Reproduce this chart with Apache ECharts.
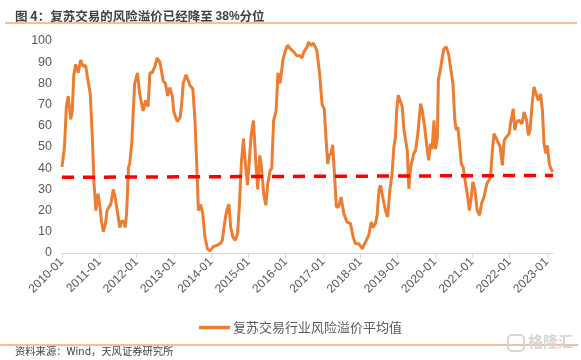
<!DOCTYPE html>
<html>
<head>
<meta charset="utf-8">
<script src="https://cdn.jsdelivr.net/npm/echarts@6/dist/echarts.min.js"></script>
<style>
html,body{margin:0;padding:0;background:#fff;}
#c{width:581px;height:360px;}
</style>
</head>
<body>
<div id="c"></div>
<script>
// ---- data ----
var startYear = 2010;
var monthCount = 159; // axis spans 2010-01 .. 2023-03
var seriesName = '复苏交易行业风险溢价平均值';
// observation time, in months since 2010-01
var obsMonth = [
  0, 0.8, 1.4, 2.0, 2.5, 2.8, 3.3, 3.8, 4.4, 5.2, 6, 6.8, 7.6, 8.4, 9.1, 9.8,
  10.3, 10.9, 11.6, 12.2, 12.7, 13.3, 14, 14.5, 15.2, 15.7, 16.5, 17, 17.5, 18, 18.6, 19.2,
  19.9, 20.3, 20.8, 21.4, 21.8, 22.5, 22.9, 23.4, 24.3, 25, 26.1, 26.9, 27.7, 28.3, 29, 29.9,
  30.6, 31.5, 32.6, 33.3, 34, 34.7, 35.5, 36, 37.1, 38, 38.5, 39, 39.9, 40.7, 41.2, 42.1,
  42.8, 43.3, 43.9, 44.6, 45.3, 46, 46.8, 47.6, 48.7, 49.8, 50.9, 51.6, 52.2, 53, 53.7, 54.3,
  55, 55.7, 56.5, 57.1, 57.7, 58.4, 59, 59.7, 60.3, 60.9, 61.6, 62.4, 63, 63.6, 64.1, 64.9,
  65.6, 66.2, 67, 67.5, 68.1, 68.9, 69.5, 70.2, 71.1, 71.8, 72.6, 73.4, 74.5, 75.6, 76.6, 77.2,
  77.9, 78.8, 79.3, 80.1, 80.9, 81.5, 82, 82.9, 83.7, 84.4, 85, 85.5, 86, 86.6, 87.1, 87.6,
  88.3, 89, 89.8, 90.7, 91.7, 92.8, 93.7, 94.4, 95.5, 96.6, 97.6, 98.7, 99.5, 100.1, 100.9, 101.4,
  102, 102.5, 103.2, 104.1, 104.8, 105.5, 106.2, 106.8, 107.3, 107.7, 108.2, 108.7, 109.5, 110, 110.6, 111.1,
  111.6, 112.2, 112.7, 113.2, 113.8, 114.5, 115.4, 115.9, 116.7, 117.3, 118, 118.6, 119.1, 119.7, 120.2, 120.8,
  121.1, 121.9, 122.4, 122.9, 123.7, 124.5, 125, 125.8, 126.4, 126.9, 127.4, 127.9, 128.5, 129.1, 129.7, 130.4,
  131.1, 131.7, 132.2, 132.9, 133.6, 134.4, 135, 135.8, 136.7, 137.4, 137.9, 138.5, 139, 139.6, 140.1, 141,
  141.7, 142.3, 143, 143.9, 144.4, 145.2, 145.7, 146.3, 147.1, 148, 148.7, 149.5, 150.1, 150.6, 151.4, 151.9,
  152.7, 153.3, 154, 154.6, 155.1, 155.7, 156.2, 156.8, 157.3, 157.9
];
var riskPremium = [
  40.6, 50, 69, 74, 74, 63, 67, 84, 89, 85, 91, 88, 88.5, 81, 75, 53,
  33, 20, 28, 22, 15, 10, 14, 20, 22, 23, 30, 27, 22.5, 22, 12, 15,
  15, 12, 18.5, 40.6, 42, 53, 66, 80, 85, 75, 67, 72, 69, 85, 85, 88,
  92, 90, 81, 80, 74, 78, 74, 66.5, 62, 64, 70, 80, 84, 81, 79, 77.5,
  62.5, 44, 20, 23, 18.5, 7.5, 2, 1, 3, 3.6, 4.4, 6, 13, 20, 23, 12,
  7.5, 6, 9, 23, 42, 54, 42, 32, 44, 56, 62.5, 42, 30, 46, 42, 28,
  22.5, 32.7, 39, 40, 62.5, 67, 85, 80, 91, 95, 98, 96.4, 95, 93, 93, 92,
  95, 97, 99.5, 98, 99, 99.5, 95.6, 84.6, 70, 68, 53, 42, 46, 47, 51, 39,
  21.7, 21.7, 26.4, 18.5, 14.6, 14, 7.5, 4.4, 4.4, 2, 5, 8.3, 14.6, 12, 14, 17.8,
  29.6, 32, 26.4, 20, 17, 29.6, 37.4, 50, 54.7, 67.3, 74.4, 75, 69, 58.6, 58, 48.4,
  30.3, 40.6, 43.7, 47, 48.4, 56.3, 70.4, 67.3, 59.4, 51.6, 43.7, 51.6, 49, 62.6, 49, 54.7,
  81.4, 87.7, 92.5, 96.4, 97.2, 93.2, 87.7, 80, 62.6, 57.9, 59.4, 51.6, 42, 40.6, 34.3, 28,
  20, 26.4, 33.5, 29.6, 20, 17.8, 23.3, 26.4, 32.7, 34.3, 35.8, 48.4, 56.3, 55.5, 53, 50,
  41.3, 53, 54.7, 56.3, 61.8, 68, 57.9, 61.8, 62.6, 61, 66.5, 62.6, 55.5, 57.9, 72, 78.3,
  74.4, 72, 75, 67.3, 51.6, 47, 50.8, 42, 39.8, 38.2
];
var trendStart = 35.7;
var trendEnd = 36.6;
var yTicks = [0, 100, 10]; // min, max, interval
var titleText = '图 4：复苏交易的风险溢价已经降至 ';
var titlePct = '38%';
var titleTail = '分位';
var sourceText = '资料来源：Wind，天风证券研究所';

// month categories for the visible axis
var months = [];
for (var i = 0; i < monthCount; i++) {
  var y = startYear + Math.floor(i / 12);
  var m = (i % 12) + 1;
  months.push(y + '-' + (m < 10 ? '0' + m : m));
}
var points = obsMonth.map(function (t, k) { return [t, riskPremium[k]]; });

var chart = echarts.init(document.getElementById('c'), null, {renderer: 'canvas'});
var orange = '#ED7D31';
var grey = '#595959';
var cjk = '"Liberation Sans", "Noto Sans CJK SC", sans-serif';

chart.setOption({
  animation: false,
  backgroundColor: '#fff',
  textStyle: {fontFamily: cjk},
  title: {
    left: 10, top: 5,
    text: '{b|' + titleText + '}{n|' + titlePct + '}{b|' + titleTail + '}',
    textStyle: {
      rich: {
        b: {fontSize: 12.5, fontWeight: 'bold', color: '#404040', fontFamily: '"Noto Sans CJK SC", sans-serif'},
        n: {fontSize: 12, color: '#404040', fontFamily: '"Liberation Sans", sans-serif'}
      }
    }
  },
  grid: {left: 62, right: 28, top: 41, bottom: 107, containLabel: false},
  legend: {
    left: 194, top: 316,
    icon: 'rect', itemWidth: 31, itemHeight: 3.5, itemGap: 10,
    textStyle: {color: grey, fontSize: 13, fontFamily: '"Noto Sans CJK SC", sans-serif', padding: [0, 0, 0, -2]},
    data: [seriesName]
  },
  xAxis: [{
    type: 'category',
    data: months,
    boundaryGap: false,
    axisLine: {lineStyle: {color: '#D9D9D9', width: 1}},
    axisTick: {show: true, interval: 11, length: 5, lineStyle: {color: '#D9D9D9'}},
    axisLabel: {interval: 11, rotate: 45, color: grey, fontSize: 12, margin: 7},
    splitLine: {show: false}
  }, {
    type: 'value',
    min: 0, max: monthCount - 1,
    show: false,
    splitLine: {show: false}
  }],
  yAxis: {
    type: 'value',
    min: yTicks[0], max: yTicks[1], interval: yTicks[2],
    axisLine: {show: false},
    axisTick: {show: false},
    splitLine: {show: false},
    axisLabel: {color: grey, fontSize: 12.5, margin: 10}
  },
  series: [{
    name: seriesName,
    type: 'line',
    xAxisIndex: 1,
    data: points,
    showSymbol: false,
    symbol: 'none',
    lineStyle: {color: orange, width: 3},
    itemStyle: {color: orange},
    markLine: {
      silent: true,
      symbol: ['none', 'none'],
      label: {show: false},
      lineStyle: {color: '#FF0000', width: 3.5, type: [12, 9], opacity: 1},
      data: [[{coord: [0, trendStart]}, {coord: [monthCount - 1, trendEnd]}]]
    },
    z: 2
  }],
  graphic: [
    {type: 'line', shape: {x1: 5, y1: 23, x2: 577, y2: 23}, style: {stroke: orange, lineWidth: 1.2}},
    {type: 'line', shape: {x1: 0, y1: 345, x2: 578, y2: 345}, style: {stroke: orange, lineWidth: 1.2}},
    {type: 'text', left: 15, top: 346, style: {text: sourceText, fill: '#404040', fontSize: 10.3, fontFamily: '"Noto Sans CJK SC", sans-serif'}},
    {type: 'rect', shape: {x: 508, y: 335, width: 16, height: 16, r: 4}, style: {fill: 'none', stroke: '#D6D6D6', lineWidth: 2}},
    {type: 'text', left: 528, top: 334, style: {text: '格隆汇', fill: '#D6D6D6', fontSize: 15, fontWeight: 'bold', fontFamily: '"Noto Sans CJK SC", sans-serif'}}
  ]
});
</script>
</body>
</html>
